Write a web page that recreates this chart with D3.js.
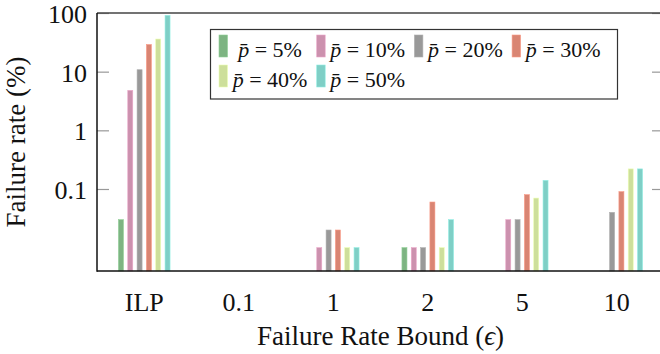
<!DOCTYPE html>
<html>
<head>
<meta charset="utf-8">
<script src="https://cdn.jsdelivr.net/npm/d3@7"></script>
<style>
  body { margin: 0; background: #fff; }
  svg, svg text { font-family: "Liberation Serif", "DejaVu Serif", serif; }
</style>
</head>
<body>
<svg width="660" height="354"></svg>
<script>
// categories on the x axis
var bounds = ["ILP", "0.1", "1", "2", "5", "10"];
// one array per series, null = no bar
var p5  = [0.03, null, null, 0.01, null, null];
var p10 = [4.8,  null, 0.01, 0.01, 0.03, null];
var p20 = [10.8, null, 0.02, 0.01, 0.03, 0.04];
var p30 = [29,   null, 0.02, 0.06, 0.08, 0.09];
var p40 = [36,   null, 0.01, 0.01, 0.07, 0.22];
var p50 = [91,   null, 0.01, 0.03, 0.14, 0.22];
var seriesNames = ["5%", "10%", "20%", "30%", "40%", "50%"];
var colors = ["#7db482", "#cc91ae", "#999999", "#d98573", "#cddf9b", "#7fcfc6"];
var yTicks = [0.1, 1, 10, 100];

var series = [p5, p10, p20, p30, p40, p50];

var svg = d3.select("svg");
var mLeft = 97, mRight = 664, mTop = 13, mBottom = 271;

var x = d3.scaleBand().domain(bounds).range([mLeft, mRight]).padding(0);
var xOff = d3.scalePoint().domain(d3.range(6)).range([-23.3, 23.3]);
var y = d3.scaleLog().domain([0.004, 100]).range([mBottom, mTop]);
var barW = 5;

// bars
series.forEach(function (vals, i) {
    svg.append("g")
        .selectAll("rect")
        .data(vals.map(function (v, k) { return {v: v, c: bounds[k]}; })
                  .filter(function (d) { return d.v != null; }))
        .enter()
        .append("rect")
        .attr("x", function (d) { return x(d.c) + x.bandwidth() / 2 + xOff(i) - barW / 2; })
        .attr("y", function (d) { return y(d.v); })
        .attr("width", barW)
        .attr("height", function (d) { return mBottom - y(d.v); })
        .style("fill", colors[i])
        .style("stroke", d3.color(colors[i]).brighter(0.4))
        .style("stroke-width", 0.6);
});

// y axis left
var yAxis = svg.append("g")
    .attr("transform", "translate(" + mLeft + ",0)")
    .call(d3.axisLeft(y).tickValues(yTicks).tickFormat(function (d) { return String(d); })
        .tickSize(-12).tickPadding(10));
yAxis.attr("font-family", null).attr("font-size", null);
yAxis.select(".domain").remove();
yAxis.selectAll("line").attr("stroke", "#999").attr("stroke-width", 1.2);
yAxis.selectAll("text").style("font-size", "26px").attr("dy", "0.36em").attr("fill", "#111");

// mirrored ticks on the right
var yAxisR = svg.append("g")
    .attr("transform", "translate(" + mRight + ",0)")
    .call(d3.axisRight(y).tickValues(yTicks).tickFormat("").tickSize(-12));
yAxisR.select(".domain").remove();
yAxisR.selectAll("line").attr("stroke", "#999").attr("stroke-width", 1.2);

// x axis
var xAxis = svg.append("g")
    .attr("transform", "translate(0," + mBottom + ")")
    .call(d3.axisBottom(x).tickSize(0).tickPadding(22));
xAxis.attr("font-family", null).attr("font-size", null);
xAxis.select(".domain").remove();
xAxis.selectAll("text").style("font-size", "26px").attr("fill", "#111");

// frame
svg.append("line").attr("x1", mLeft).attr("x2", mRight).attr("y1", mTop).attr("y2", mTop)
    .attr("stroke", "#444").attr("stroke-width", 1.3);
svg.append("line").attr("x1", mRight).attr("x2", mRight).attr("y1", mTop).attr("y2", mBottom)
    .attr("stroke", "#444").attr("stroke-width", 1.3);
svg.append("line").attr("x1", mLeft).attr("x2", mLeft).attr("y1", mTop).attr("y2", mBottom + 0.7)
    .attr("stroke", "#111").attr("stroke-width", 1.5);
svg.append("line").attr("x1", mLeft).attr("x2", mRight).attr("y1", mBottom).attr("y2", mBottom)
    .attr("stroke", "#111").attr("stroke-width", 1.5);

// axis titles
svg.append("text")
    .attr("x", (mLeft + mRight) / 2)
    .attr("y", 345)
    .attr("text-anchor", "middle")
    .style("font-size", "27px")
    .attr("fill", "#111")
    .html("Failure Rate Bound (<tspan font-style='italic'>ϵ</tspan>)");

svg.append("text")
    .attr("transform", "translate(25," + (mTop + mBottom) / 2 + ") rotate(-90)")
    .attr("text-anchor", "middle")
    .style("font-size", "27px")
    .attr("fill", "#111")
    .text("Failure rate (%)");

// legend
var legend = svg.append("g");
legend.append("rect")
    .attr("x", 210.5).attr("y", 29.5).attr("width", 407).attr("height", 69.5)
    .attr("fill", "#fff").attr("stroke", "#333").attr("stroke-width", 1.2);

seriesNames.forEach(function (name, i) {
    var col = i % 4, row = Math.floor(i / 4);
    var sx = 219 + col * 97.7, sy = 35 + row * 30;
    legend.append("rect")
        .attr("x", sx).attr("y", sy).attr("width", 8.5).attr("height", 22)
        .style("fill", colors[i])
        .style("stroke", d3.color(colors[i]).brighter(0.4))
        .style("stroke-width", 0.6);
    var t = legend.append("text")
        .attr("x", sx + 51)
        .attr("y", sy + 21.5)
        .attr("text-anchor", "middle")
        .style("font-size", "22px")
        .attr("fill", "#111");
    t.append("tspan").style("font-style", "italic").text("p\u0304");
    t.append("tspan").text(" = " + name);
});
</script>
</body>
</html>
